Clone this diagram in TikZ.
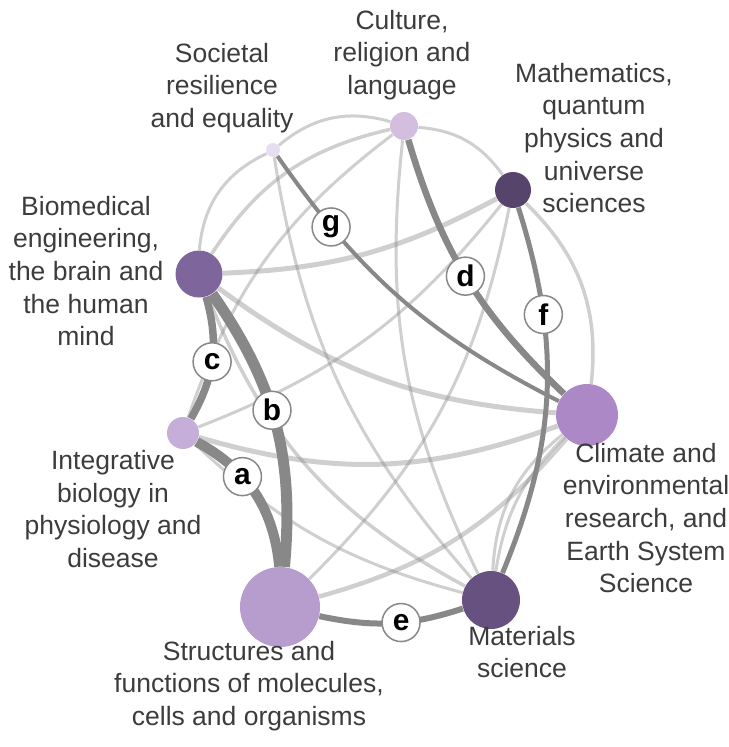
\documentclass[tikz,border=0pt]{standalone}
\usepackage{fontspec}
\setmainfont{Liberation Sans}
\usetikzlibrary{backgrounds}

\definecolor{societalc}{HTML}{E6DDEF}
\definecolor{culturec}{HTML}{D4BEE0}
\definecolor{mathsc}{HTML}{57446C}
\definecolor{biomedc}{HTML}{7E669D}
\definecolor{integrc}{HTML}{C5AED8}
\definecolor{climatec}{HTML}{AC89C6}
\definecolor{structuresc}{HTML}{B79CCE}
\definecolor{materialsc}{HTML}{675180}
\definecolor{linkgray}{HTML}{888888}
\definecolor{textgray}{HTML}{3C3C3C}

\tikzset{
	topic/.style={circle, inner sep=0pt, minimum size=#1},
	topicname/.style={align=center, text=textgray, font=\fontsize{13.3}{16.35}\selectfont},
	weaklink/.style={draw=linkgray, draw opacity=0.4, line width=#1},
	weaklink/.default=1.5bp,
	stronglink/.style={draw=linkgray, line width=#1},
	linklabel/.style={circle, draw=linkgray, line width=0.75bp, fill=white, inner sep=0pt, minimum size=19bp, text=black, font=\fontsize{15}{15}\selectfont\bfseries}
}

\begin{document}
\begin{tikzpicture}[x=0.5bp, y=-0.5bp]
		%%%%% START %%%%%
		\useasboundingbox (0, 0) rectangle (729, 747);
		
		\node[topic=7bp, fill=societalc] (societal) at (273, 150) {};
		\node[topic=14bp, fill=culturec] (culture) at (404, 126) {};
		\node[topic=18bp, fill=mathsc] (maths) at (513, 190) {};
		\node[topic=23.5bp, fill=biomedc] (biomed) at (199, 274) {};
		\node[topic=16bp, fill=integrc] (integr) at (183, 433) {};
		\node[topic=31bp, fill=climatec] (climate) at (587, 415) {};
		\node[topic=40bp, fill=structuresc] (structures) at (280, 607) {};
		\node[topic=29bp, fill=materialsc] (materials) at (491, 600) {};
		
		\node[topicname] (societal-name) at (222, 88) {Societal\\resilience\\and equality};
		\node[topicname] (culture-name) at (402, 55) {Culture,\\religion and\\language};
		\node[topicname] (maths-name) at (594, 138) {Mathematics,\\quantum\\physics and\\universe\\sciences};
		\node[topicname] (biomed-name) at (86, 271) {Biomedical\\engineering,\\the brain and\\the human\\mind};
		\node[topicname] (integr-name) at (113, 509) {Integrative\\biology in\\physiology and\\disease};
		\node[topicname] (climate-name) at (646, 518) {Climate and\\environmental\\research, and\\Earth System\\Science};
		\node[topicname] (materials-name) at (522, 652) {Materials\\science};
		\node[topicname] (structures-name) at (249, 686) {Structures and\\functions of molecules,\\cells and organisms};
		
		\begin{scope}[on background layer]
			% weak links
			\draw[weaklink] (societal) to[bend left=28] (culture);
			\draw[weaklink] (societal) to[bend right=30] (biomed);
			\draw[weaklink=1.75bp] (culture) to[bend right=22] (biomed);
			\draw[weaklink] (culture) to[bend left=25] (maths);
			\draw[weaklink=2.5bp] (maths) to[bend left=13] (biomed);
			\draw[weaklink=1.75bp] (maths) to[bend left=26] (climate);
			\draw[weaklink=2.5bp] (biomed) to[bend right=16] (climate);
			\draw[weaklink=1.75bp] (biomed) to[bend right=20] (materials);
			\draw[weaklink=2.5bp] (integr) to[bend right=18] (climate);
			\draw[weaklink] (integr) to[bend right=15] (maths);
			\draw[weaklink] (culture) to[bend right=17] (integr);
			\draw[weaklink] (societal) to[bend right=16] (materials);
			\draw[weaklink] (culture) to[bend right=16] (materials);
			\draw[weaklink] (structures) to[bend right=17] (maths);
			\draw[weaklink=2.25bp] (structures) to[bend right=17] (climate);
			\draw[weaklink] (integr) to[bend right=14] (materials);
			\draw[weaklink] (climate) to[bend right=18] (materials);
			\draw[weaklink] (climate) to[bend right=24] (materials);
			
			% strong links
			\draw[stronglink=5bp] (integr) to[bend left=28] node[linklabel, pos=0.36] (link-a) {a} (structures);
			\draw[stronglink=5.5bp] (biomed) to[bend left=20] node[linklabel, pos=0.45] (link-b) {b} (structures);
			\draw[stronglink=3.75bp] (biomed) to[bend left=23] node[linklabel, pos=0.52] (link-c) {c} (integr);
			\draw[stronglink=3.25bp] (culture) to[bend right=15] node[linklabel, pos=0.49] (link-d) {d} (climate);
			\draw[stronglink=3bp] (structures) to[bend right=15] node[linklabel, pos=0.57] (link-e) {e} (materials);
			\draw[stronglink=2.5bp] (maths) to[bend left=20] node[linklabel, pos=0.28] (link-f) {f} (materials);
			\draw[stronglink=2bp] (societal) to[bend right=14] node[linklabel, pos=0.22] (link-g) {g} (climate);
		\end{scope}
		%%%%% END %%%%%
	\end{tikzpicture}
\end{document}
